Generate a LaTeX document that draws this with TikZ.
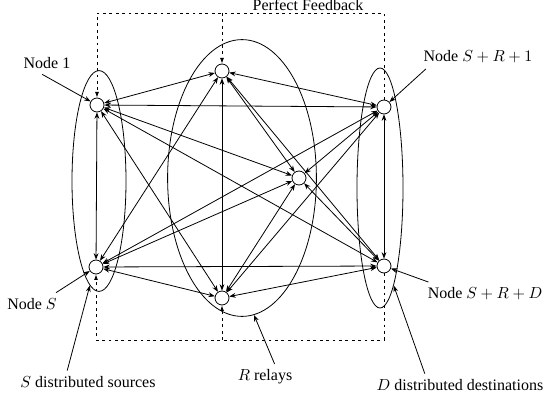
\documentclass[tikz,border=0pt]{standalone}
\usepackage{fontspec}
\setmainfont{Liberation Serif}
\usetikzlibrary{arrows.meta,shapes.geometric}
\tikzset{
  station/.style={draw,circle,fill=white,minimum size=8.75pt,inner sep=0pt},
  group/.style={draw,ellipse,inner sep=0pt},
  link/.style={{Stealth[length=4pt,width=3pt]}-{Stealth[length=4pt,width=3pt]}},
  pointer/.style={-{Stealth[length=4pt,width=3pt]}},
  feedback/.style={dash pattern=on 1.8pt off 2.2pt,-{Latex[length=3.5pt,width=2.5pt]}}
}
\begin{document}
\begin{tikzpicture}[x=0.625pt,y=-0.625pt,line width=0.5pt]
\useasboundingbox (0,0) rectangle (550,402);
% the three groups
\node[group,minimum width=33.75pt,minimum height=138pt] (srcs) at (99,181) {};
\node[group,minimum width=93pt,minimum height=173pt] (rels) at (242,178) {};
\node[group,minimum width=28.75pt,minimum height=150pt] (dsts) at (380,188) {};
% stations
\node[station] (n1) at (97,105) {};
\node[station] (nS) at (96,267) {};
\node[station] (r1) at (222,71) {};
\node[station] (r2) at (299,178) {};
\node[station] (r3) at (222,298) {};
\node[station] (d1) at (384,107) {};
\node[station] (dD) at (384,266) {};
% every pair is linked both ways
\foreach \a/\b in {n1/nS,n1/r1,n1/r2,n1/r3,n1/d1,n1/dD,nS/r1,nS/r2,nS/r3,nS/d1,nS/dD,
                   r1/r2,r1/r3,r1/d1,r1/dD,r2/r3,r2/d1,r2/dD,r3/d1,r3/dD,d1/dD}
  \draw[link] (\a) -- (\b);
% feedback from the destinations
\coordinate (fbtop) at (240,13);
\coordinate (fbbot) at (240,340);
\draw[feedback] (d1.north) -- (d1 |- fbtop) -- (n1 |- fbtop) -- (n1.north);
\draw[feedback] (r1 |- fbtop) -- (r1.north);
\draw[feedback] (dD.south) -- (dD |- fbbot) -- (nS |- fbbot) -- (nS.south);
\draw[feedback] (r3 |- fbbot) -- (r3.south);
\node[anchor=base] (fbtext) at (308,11) {Perfect Feedback};
% names
\node (t1) at (47,63) {Node 1};
\draw[pointer] ([xshift=-3pt]t1.south) -- (n1);
\node (tG) at (478,57) {Node $S+R+1$};
\draw[pointer] ([xshift=5pt]tG.south west) -- (d1);
\node (tS) at (32,304) {Node $S$};
\draw[pointer] ([xshift=-4pt]tS.north east) -- (nS);
\node (tH) at (485,294) {Node $S+R+D$};
\draw[pointer] ([xshift=4pt]tH.north west) -- (dD);
\node (tsrc) at (88,382) {$S$ distributed sources};
\draw[pointer] ([xshift=-13pt]tsrc.north) -- (srcs.265);
\node (trel) at (265,377) {$R$ relays};
\draw[pointer] ([xshift=6pt]trel.north) -- (rels.275);
\node (tdst) at (460,385) {$D$ distributed destinations};
\draw[pointer] ([xshift=-22pt]tdst.north) -- (dsts.278);
\end{tikzpicture}
\end{document}
